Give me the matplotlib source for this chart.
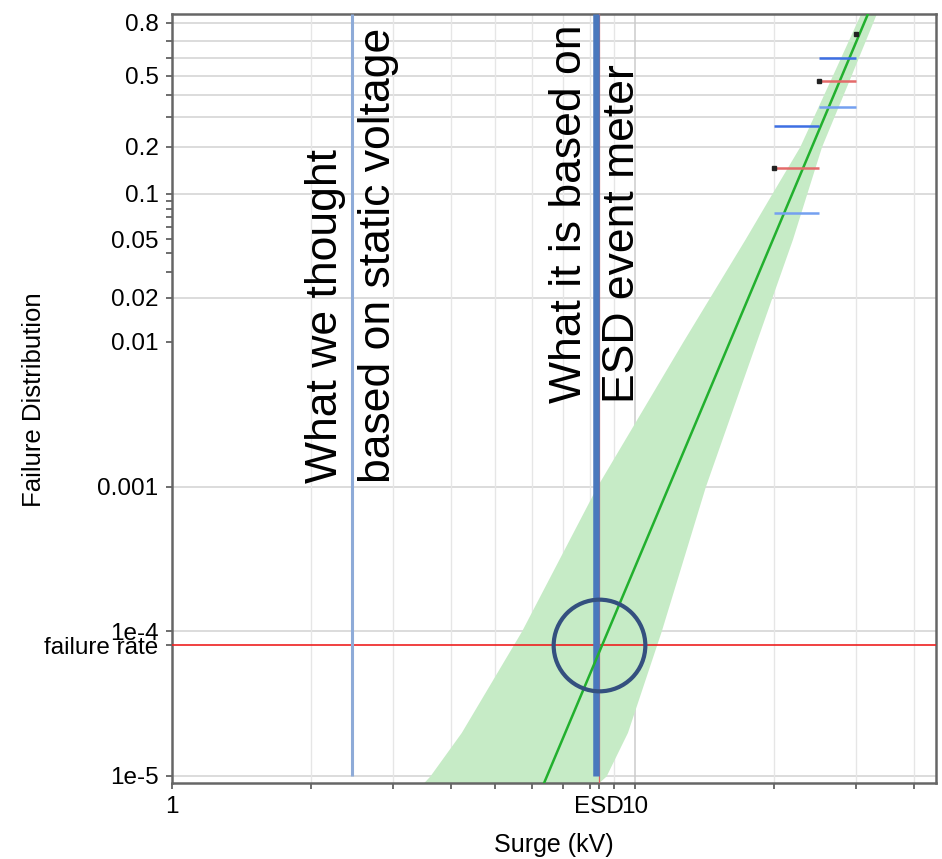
import numpy as np
import matplotlib
matplotlib.use('Agg')
import matplotlib.pyplot as plt
from matplotlib.ticker import FixedLocator, FixedFormatter, NullFormatter

plt.rcParams['font.family'] = ['Liberation Sans', 'DejaVu Sans']

# ── Weibull fit of surge level (kV) to failure ──────────────────────────
WEIBULL_BETA = 7.6
WEIBULL_ETA = 29.4

# confidence band around the fit (kV at each failure fraction)
BAND_F = [0.842, 0.5, 0.2, 0.1, 0.05, 0.01, 0.001, 1e-4, 2e-5, 1e-5, 8.9e-6]
BAND_LO = [30.7, 26.7, 22.7, 19.75, 17.3, 12.7, 8.28, 5.69, 4.22, 3.61, 3.49]
BAND_HI = [33.2, 29.3, 25.3, 23.5, 21.9, 18.3, 14.2, 11.4, 9.64, 8.67, 8.33]

# interval test data: surge range (kV) and plotted failure fraction
SEG_LO = [30, 25, 25, 25, 20, 20, 20]
SEG_HI = [30, 30, 30, 30, 25, 25, 25]
SEG_F = [0.74, 0.60, 0.47, 0.343, 0.267, 0.147, 0.0746]
SEG_KIND = ['fail', 'pass', 'fail', 'pass_lt', 'pass', 'fail', 'pass_lt']

STATIC_KV = 2.45       # what we thought (static voltage)
ESD_METER_KV = 8.25    # what it is (ESD event meter)
ESD_KV = 8.38          # ESD reference level
FAILURE_RATE = 8e-5

F_MIN, F_MAX = 8.9e-6, 0.842
KV_MIN, KV_MAX = 1, 44.7

YTICKS = [0.8, 0.5, 0.2, 0.1, 0.05, 0.02, 0.01, 0.001, 1e-4, FAILURE_RATE, 1e-5]
YLABELS = ['0.8', '0.5', '0.2', '0.1', '0.05', '0.02', '0.01', '0.001',
           '1e-4', 'failure rate', '1e-5']
YMINOR = [0.7, 0.6, 0.4, 0.3, 0.09, 0.08, 0.07, 0.06, 0.04, 0.03]
HGRID = [0.8, 0.7, 0.6, 0.5, 0.4, 0.3, 0.2, 0.1, 0.02, 0.001, 1e-4, 1e-5]

XTICKS = [1, ESD_KV, 10]
XLABELS = ['1', 'ESD', '10']
XMINOR = [2, 3, 4, 5, 6, 7, 8, 9, 20, 30, 40]

SEG_COLORS = {'fail': '#e46a6a', 'pass': '#3d6fe3', 'pass_lt': '#74a0f0'}


def weibull_fwd(f):
    f = np.clip(f, 1e-12, 1 - 1e-12)
    return np.log(-np.log1p(-f))


def weibull_inv(w):
    return -np.expm1(-np.exp(w))


W, H = 942, 859
fig = plt.figure(figsize=(W / 100, H / 100), dpi=100)
ax = fig.add_axes([171.7 / W, 1 - 783.3 / H, (936 - 171.7) / W, (783.3 - 14) / H])
ax.set_xscale('log')
ax.set_yscale('function', functions=(weibull_fwd, weibull_inv))
ax.set_xlim(KV_MIN, KV_MAX)
ax.set_ylim(F_MIN, F_MAX)

# grid
for f in HGRID:
    ax.axhline(f, color='#d9d9d9', lw=1.3, zorder=0)
for x in XMINOR:
    ax.axvline(x, color='#e6e6e6', lw=1.0, zorder=0)
ax.axvline(10, color='#cccccc', lw=1.1, zorder=0)

# confidence band and fit line
ax.fill_betweenx(BAND_F, BAND_LO, BAND_HI, color='#c6ebc6', lw=0, zorder=1)
fit_f = np.array([F_MIN, F_MAX])
fit_kv = WEIBULL_ETA * (-np.log1p(-fit_f)) ** (1 / WEIBULL_BETA)
ax.plot(fit_kv, fit_f, color='#22b02e', lw=1.8, zorder=4)

# interval data
for lo, hi, f, kind in zip(SEG_LO, SEG_HI, SEG_F, SEG_KIND):
    ax.plot([lo, hi], [f, f], color=SEG_COLORS[kind], lw=1.8,
            solid_capstyle='butt', zorder=5)
    if kind == 'fail':
        ax.plot(lo, f, 's', color='#222222', ms=3.2, zorder=6)

# reference lines
ax.axhline(FAILURE_RATE, color='#ee2020', lw=1.2, zorder=3)
ax.axvline(ESD_KV, color='#e06060', lw=0.9, zorder=3)
ax.vlines(STATIC_KV, 1e-5, F_MAX, color='#8eabd8', lw=2.2, zorder=3)
ax.vlines(ESD_METER_KV, 1e-5, F_MAX, color='#4a78bd', lw=4.7, zorder=3)

ax.plot(ESD_KV, FAILURE_RATE, 'o', ms=66, mfc='none', mec='#34507f',
        mew=3.0, zorder=7)

ax.text(STATIC_KV, 1.06e-3, 'What we thought\nbased on static voltage',
        rotation=90, ha='center', va='bottom', multialignment='left',
        fontsize=32, linespacing=1.36, zorder=8)
ax.text(ESD_METER_KV, 3.8e-3, 'What it is based on\nESD event meter',
        rotation=90, ha='center', va='bottom', multialignment='left',
        fontsize=32, linespacing=1.36, zorder=8)

# ticks
ax.yaxis.set_major_locator(FixedLocator(YTICKS))
ax.yaxis.set_major_formatter(FixedFormatter(YLABELS))
ax.yaxis.set_minor_locator(FixedLocator(YMINOR))
ax.yaxis.set_minor_formatter(NullFormatter())
ax.xaxis.set_major_locator(FixedLocator(XTICKS))
ax.xaxis.set_major_formatter(FixedFormatter(XLABELS))
ax.xaxis.set_minor_locator(FixedLocator(XMINOR))
ax.xaxis.set_minor_formatter(NullFormatter())
ax.tick_params(which='both', direction='out', length=4.5, width=1.2,
               color='#555555', labelsize=17.5, pad=5)

for s in ax.spines.values():
    s.set_color('#666666')
    s.set_linewidth(1.8)

fig.text(34 / W, 1 - 400 / H, 'Failure Distribution', rotation=90,
         ha='center', va='center', fontsize=18.5)
fig.text(554 / W, 1 - 845 / H, 'Surge (kV)', ha='center', va='center',
         fontsize=18)

fig.savefig('out.png', dpi=100)
